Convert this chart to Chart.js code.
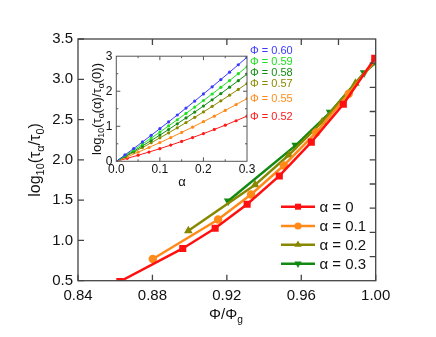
<!DOCTYPE html>
<html>
<head>
<meta charset="utf-8">
<script src="https://cdn.jsdelivr.net/npm/chart.js@4.4.1/dist/chart.umd.min.js"></script>
<style>
html, body { margin: 0; padding: 0; background: #fff; }
#wrap { position: relative; width: 436px; height: 337px; }
#main { position: absolute; left: 0; top: 0; }
#inset { position: absolute; left: 78px; top: 45px; }
</style>
</head>
<body>
<div id="wrap">
  <canvas id="main" width="436" height="337"></canvas>
  <canvas id="inset" width="222" height="150"></canvas>
</div>
<script>
// ---- main panel: log10(tau_alpha/tau_0) vs Phi/Phi_g ----
var phiA0 = [0.8625, 0.8963, 0.9137, 0.9309, 0.9482, 0.9654, 0.9826, 0.9995];
var tauA0 = [0.49, 0.90, 1.15, 1.45, 1.80, 2.22, 2.69, 3.26];
var phiA1 = [0.8802, 0.9153, 0.9330, 0.9506, 0.9680, 0.9855, 1.0];
var tauA1 = [0.77, 1.26, 1.57, 1.93, 2.34, 2.82, 3.25];
var phiA2 = [0.8993, 0.9352, 0.9533, 0.9712, 0.9891, 1.0];
var tauA2 = [1.12, 1.69, 2.06, 2.47, 2.95, 3.23];
var phiA3 = [0.9207, 0.9570, 0.9755, 0.9938, 1.0];
var tauA3 = [1.49, 2.18, 2.59, 3.08, 3.21];
var mainLabels = ['α = 0', 'α = 0.1', 'α = 0.2', 'α = 0.3'];

var xTicksMain = [0.84, 0.88, 0.92, 0.96, 1.00];
var yTicksMain = [0.5, 1.0, 1.5, 2.0, 2.5, 3.0, 3.5];
var topTicksMain = [0.88, 0.92, 0.96, 0.98];
var rightTicksMain = [0.8, 1.1, 1.4, 1.7, 2.0, 2.3, 2.6, 2.9, 3.2];

// ---- inset: log10(tau(alpha)/tau(0)) vs alpha ----
var alphaFine = [0, 0.02, 0.04, 0.06, 0.08, 0.10, 0.12, 0.14, 0.16, 0.18, 0.20, 0.22, 0.24, 0.26, 0.28, 0.30];
var alphaCoarse = [0, 0.025, 0.05, 0.075, 0.10, 0.125, 0.15, 0.175, 0.20, 0.225, 0.25, 0.275, 0.30];
var phi060 = [0, 0.182, 0.366, 0.552, 0.741, 0.932, 1.125, 1.321, 1.519, 1.719, 1.922, 2.127, 2.334, 2.544, 2.756, 2.970];
var phi059 = [0, 0.162, 0.326, 0.492, 0.662, 0.834, 1.009, 1.186, 1.366, 1.548, 1.734, 1.921, 2.112, 2.305, 2.501, 2.699];
var phi058 = [0, 0.143, 0.290, 0.439, 0.592, 0.748, 0.908, 1.071, 1.237, 1.406, 1.578, 1.754, 1.933, 2.116, 2.301, 2.490];
var phi057 = [0, 0.128, 0.259, 0.393, 0.529, 0.669, 0.811, 0.956, 1.104, 1.255, 1.409, 1.565, 1.725, 1.887, 2.052, 2.220];
var phi055 = [0, 0.127, 0.259, 0.394, 0.534, 0.677, 0.824, 0.975, 1.130, 1.289, 1.452, 1.619, 1.790];
var phi052 = [0, 0.084, 0.172, 0.264, 0.361, 0.462, 0.567, 0.677, 0.790, 0.909, 1.031, 1.158, 1.289];
var insetLabels = ['Φ = 0.60', 'Φ = 0.59', 'Φ = 0.58', 'Φ = 0.57', 'Φ = 0.55', 'Φ = 0.52'];

var FONT = '"Liberation Sans", Arial, sans-serif';
var MAIN_COLORS = ['#ff1010', '#ff8a1a', '#888800', '#128a12'];
var INSET_COLORS = ['#3a3aff', '#22e022', '#138c13', '#8a8a00', '#ff8a1a', '#ff1a1a'];

function pts(xs, ys) {
  return xs.map(function(x, i) { return { x: x, y: ys[i] }; });
}

// texto con subíndices: parts = [[texto, esSub], ...], centrado en x
function drawRich(ctx, parts, x, y, size) {
  var sub = size * 0.68;
  var total = 0;
  parts.forEach(function(p) {
    ctx.font = (p[1] ? sub : size) + 'px ' + FONT;
    total += ctx.measureText(p[0]).width;
  });
  var cx = x - total / 2;
  ctx.textAlign = 'left';
  ctx.textBaseline = 'middle';
  parts.forEach(function(p) {
    ctx.font = (p[1] ? sub : size) + 'px ' + FONT;
    ctx.fillText(p[0], cx, y + (p[1] ? size * 0.32 : 0));
    cx += ctx.measureText(p[0]).width;
  });
}

function drawFrame(chart, color, lw, t) {
  var ctx = chart.ctx, a = chart.chartArea, xs = chart.scales.x, ys = chart.scales.y;
  ctx.save();
  ctx.strokeStyle = color;
  ctx.lineWidth = lw;
  ctx.strokeRect(a.left, a.top, a.right - a.left, a.bottom - a.top);
  ctx.beginPath();
  t.bottom.forEach(function(v) { var p = xs.getPixelForValue(v[0]); ctx.moveTo(p, a.bottom); ctx.lineTo(p, a.bottom - v[1]); });
  t.top.forEach(function(v) { var p = xs.getPixelForValue(v[0]); ctx.moveTo(p, a.top); ctx.lineTo(p, a.top + v[1]); });
  t.left.forEach(function(v) { var p = ys.getPixelForValue(v[0]); ctx.moveTo(a.left, p); ctx.lineTo(a.left + v[1], p); });
  t.right.forEach(function(v) { var p = ys.getPixelForValue(v[0]); ctx.moveTo(a.right, p); ctx.lineTo(a.right - v[1], p); });
  ctx.stroke();
  ctx.restore();
}

function withLen(arr, len) { return arr.map(function(v) { return [v, len]; }); }

var mainDatasets = [
  { data: pts(phiA0, tauA0), pointStyle: 'rect', pointRadius: 5, rotation: 0 },
  { data: pts(phiA1, tauA1), pointStyle: 'circle', pointRadius: 4.2, rotation: 0 },
  { data: pts(phiA2, tauA2), pointStyle: 'triangle', pointRadius: 5, rotation: 0 },
  { data: pts(phiA3, tauA3), pointStyle: 'triangle', pointRadius: 5, rotation: 180 }
].map(function(d, i) {
  d.label = mainLabels[i];
  d.showLine = true;
  d.borderColor = MAIN_COLORS[i];
  d.backgroundColor = MAIN_COLORS[i];
  d.pointBackgroundColor = MAIN_COLORS[i];
  d.pointBorderColor = MAIN_COLORS[i];
  d.borderWidth = 2.5;
  d.pointBorderWidth = 0;
  d.pointRotation = d.rotation;
  d.tension = 0;
  return d;
});

var mainDecor = {
  id: 'mainDecor',
  afterDraw: function(chart) {
    var ctx = chart.ctx;
    drawFrame(chart, '#444', 1.3, {
      bottom: withLen(xTicksMain, 6),
      top: withLen(topTicksMain, 6),
      left: withLen(yTicksMain, 6),
      right: withLen(rightTicksMain, 6)
    });
    ctx.save();
    ctx.fillStyle = '#111';
    drawRich(ctx, [['Φ/Φ', 0], ['g', 1]], 226, 315, 15);
    ctx.translate(36, 160);
    ctx.rotate(-Math.PI / 2);
    drawRich(ctx, [['log', 0], ['10', 1], ['(τ', 0], ['α', 1], ['/τ', 0], ['0', 1], [')', 0]], 0, 0, 16);
    ctx.restore();

    // leyenda
    var rows = [206.7, 226, 244.7, 263.7];
    ctx.save();
    chart.data.datasets.forEach(function(ds, i) {
      var y = rows[i];
      ctx.strokeStyle = ds.borderColor;
      ctx.lineWidth = 2.5;
      ctx.beginPath();
      ctx.moveTo(281, y);
      ctx.lineTo(315, y);
      ctx.stroke();
      ctx.fillStyle = ds.borderColor;
      ctx.strokeStyle = ds.borderColor;
      Chart.helpers.drawPoint(ctx, { pointStyle: ds.pointStyle, radius: ds.pointRadius * 0.85, rotation: ds.rotation, borderWidth: 0 }, 298, y);
      ctx.fillStyle = '#111';
      ctx.font = '15px ' + FONT;
      ctx.textAlign = 'left';
      ctx.textBaseline = 'middle';
      ctx.fillText(ds.label, 319.5, y + 1);
    });
    ctx.restore();
  }
};

new Chart(document.getElementById('main'), {
  type: 'scatter',
  data: { datasets: mainDatasets },
  options: {
    responsive: false,
    animation: false,
    layout: { padding: { left: 0, right: 60.3, top: 39, bottom: 0 } },
    plugins: { legend: { display: false }, tooltip: { enabled: false } },
    scales: {
      x: {
        type: 'linear', min: 0.84, max: 1.00,
        border: { display: false },
        grid: { display: false, drawTicks: false },
        afterBuildTicks: function(s) { s.ticks = xTicksMain.map(function(v) { return { value: v }; }); },
        afterFit: function(s) { s.height = 56.3; },
        ticks: { color: '#111', padding: 6, font: { family: FONT, size: 15 }, callback: function(v) { return v.toFixed(2); } }
      },
      y: {
        type: 'linear', min: 0.5, max: 3.5,
        border: { display: false },
        grid: { display: false, drawTicks: false },
        afterBuildTicks: function(s) { s.ticks = yTicksMain.map(function(v) { return { value: v }; }); },
        afterFit: function(s) { s.width = 78; },
        ticks: { color: '#111', padding: 5, font: { family: FONT, size: 15 }, callback: function(v) { return v.toFixed(1); } }
      }
    }
  },
  plugins: [mainDecor]
});

// ---- inset ----
var insetSeries = [
  [alphaFine, phi060], [alphaFine, phi059], [alphaFine, phi058],
  [alphaFine, phi057], [alphaCoarse, phi055], [alphaCoarse, phi052]
];
var insetDatasets = insetSeries.map(function(s, i) {
  return {
    label: insetLabels[i],
    data: pts(s[0], s[1]),
    showLine: true,
    borderColor: INSET_COLORS[i],
    backgroundColor: INSET_COLORS[i],
    pointBackgroundColor: INSET_COLORS[i],
    pointBorderWidth: 0,
    pointRadius: 1.6,
    borderWidth: 1,
    tension: 0
  };
});

var insetLabelY = [5.7, 16.7, 27.7, 39, 54, 71.7];

var insetDecor = {
  id: 'insetDecor',
  afterDraw: function(chart) {
    var ctx = chart.ctx;
    drawFrame(chart, '#555', 1, {
      bottom: [[0, 0], [0.05, 2], [0.1, 4], [0.15, 2], [0.2, 4], [0.25, 2]],
      top: [[0.05, 2], [0.1, 4], [0.15, 2], [0.2, 4], [0.25, 2]],
      left: [[0.5, 2], [1, 4], [1.5, 2], [2, 4], [2.5, 2]],
      right: [[0.5, 2], [1, 4], [1.5, 2], [2, 4], [2.5, 2]]
    });
    ctx.save();
    ctx.fillStyle = '#111';
    drawRich(ctx, [['α', 0]], 104, 137, 13);
    ctx.translate(19, 64);
    ctx.rotate(-Math.PI / 2);
    drawRich(ctx, [['log', 0], ['10', 1], ['(τ', 0], ['α', 1], ['(α)/τ', 0], ['α', 1], ['(0))', 0]], 0, 0, 13);
    ctx.restore();

    ctx.save();
    ctx.font = '11px ' + FONT;
    ctx.textAlign = 'left';
    ctx.textBaseline = 'middle';
    chart.data.datasets.forEach(function(ds, i) {
      ctx.fillStyle = ds.borderColor;
      ctx.fillText(ds.label, chart.chartArea.right + 3, insetLabelY[i]);
    });
    ctx.restore();
  }
};

new Chart(document.getElementById('inset'), {
  type: 'scatter',
  data: { datasets: insetDatasets },
  options: {
    responsive: false,
    animation: false,
    layout: { padding: { left: 0, right: 53, top: 11, bottom: 0 } },
    plugins: { legend: { display: false }, tooltip: { enabled: false } },
    scales: {
      x: {
        type: 'linear', min: 0, max: 0.3,
        border: { display: false },
        grid: { display: false, drawTicks: false },
        afterBuildTicks: function(s) { s.ticks = [0, 0.1, 0.2, 0.3].map(function(v) { return { value: v }; }); },
        afterFit: function(s) { s.height = 33.7; },
        ticks: { color: '#111', padding: 1, font: { family: FONT, size: 12 }, callback: function(v) { return v.toFixed(1); } }
      },
      y: {
        type: 'linear', min: 0, max: 3,
        border: { display: false },
        grid: { display: false, drawTicks: false },
        afterBuildTicks: function(s) { s.ticks = [0, 1, 2, 3].map(function(v) { return { value: v }; }); },
        afterFit: function(s) { s.width = 38.3; },
        ticks: { color: '#111', padding: 4, font: { family: FONT, size: 12 }, callback: function(v) { return String(Math.round(v)); } }
      }
    }
  },
  plugins: [insetDecor]
});
</script>
</body>
</html>
